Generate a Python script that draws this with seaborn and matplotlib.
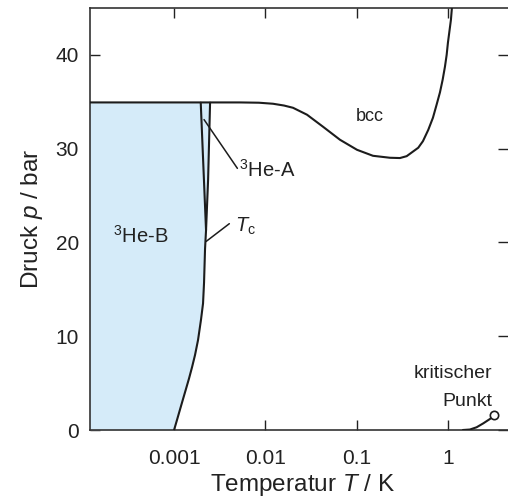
import numpy as np
import pandas as pd
import matplotlib
matplotlib.use("Agg")
import matplotlib.pyplot as plt
import seaborn as sns

# ---- data (T in K, p in bar) ----
tc_T = [1.000e-3, 1.079e-3, 1.163e-3, 1.254e-3, 1.353e-3, 1.459e-3, 1.574e-3, 1.697e-3,
        1.831e-3, 1.975e-3, 2.077e-3, 2.13e-3, 2.184e-3, 2.24e-3, 2.36e-3, 2.48e-3]
tc_p = [0.0, 1.1, 2.2, 3.3, 4.4, 5.5, 6.7, 8.0,
        9.6, 11.8, 13.5, 15.7, 19.3, 21.3, 26.7, 34.9]

ab_T = [2.24e-3, 1.96e-3]
ab_p = [21.3, 34.9]

melt_T = [1.0e-4, 5.28e-3, 8.5e-3, 0.01213, 0.016, 0.02009, 0.0286, 0.04281, 0.0657, 0.1009,
          0.151, 0.2317, 0.2981, 0.3532, 0.4732, 0.5325, 0.6086, 0.6853, 0.752, 0.8177,
          0.8753, 0.9275, 0.9683, 1.0, 1.079, 1.106, 1.13]
melt_p = [34.93, 34.93, 34.9, 34.79, 34.6, 34.36, 33.62, 32.34, 30.95, 29.88,
          29.24, 29.03, 29.0, 29.2, 30.1, 30.8, 32.0, 33.3, 34.7, 36.0,
          37.35, 38.74, 40.0, 41.3, 43.76, 45.04, 46.5]

vap_T = [1.46, 1.74, 2.06, 2.44, 2.88, 3.215]
vap_p = [0.0, 0.05, 0.29, 0.71, 1.17, 1.6]

x_ticks = [0.001, 0.01, 0.1, 1]
x_ticklabels = ["0.001", "0.01", "0.1", "1"]
y_ticks = [0, 10, 20, 30, 40]

sns.set_theme(style="ticks")
plt.rcParams["font.family"] = ["Liberation Sans", "DejaVu Sans"]
plt.rcParams["mathtext.fontset"] = "custom"
plt.rcParams["mathtext.rm"] = "Liberation Sans"
plt.rcParams["mathtext.it"] = "Liberation Sans:italic"
plt.rcParams["mathtext.bf"] = "Liberation Sans:bold"

fig = plt.figure(figsize=(5.08, 5.00), dpi=100)
ax = fig.add_axes([90 / 508, 70 / 500, 418 / 508, 422 / 500])

line_c = "#1c1c1c"
lw = 1.5

# superfluid region
ax.fill_betweenx(tc_p, 1e-5, tc_T, color="#d5ebf9", linewidth=0, zorder=1)

df_tc = pd.DataFrame({"T": tc_T, "p": tc_p})
df_ab = pd.DataFrame({"T": ab_T, "p": ab_p})
df_melt = pd.DataFrame({"T": melt_T, "p": melt_p})
df_vap = pd.DataFrame({"T": vap_T, "p": vap_p})

for d in (df_tc, df_ab, df_melt, df_vap):
    sns.lineplot(data=d, x="T", y="p", sort=False, estimator=None, color=line_c,
                 linewidth=lw, ax=ax, zorder=3)

# critical point
ax.plot(vap_T[-1:], vap_p[-1:], marker="o", ms=6, mfc="white", mec=line_c, mew=1.2,
        linestyle="none", zorder=4)

ax.set_xscale("log")
ax.set_xlim(1.2e-4, 4.55)
ax.set_ylim(0, 45)
ax.set_xticks(x_ticks)
ax.set_xticklabels(x_ticklabels)
ax.minorticks_off()
ax.set_yticks(y_ticks)

ax.tick_params(axis="both", direction="in", length=7, width=1.0, colors="#222222",
               labelsize=15, labelcolor="#222222", top=True, right=True)
ax.tick_params(axis="x", pad=13.5)
ax.tick_params(axis="y", pad=8)

for s in ["left", "bottom", "top"]:
    ax.spines[s].set_color("#333333")
    ax.spines[s].set_linewidth(1.2)
ax.spines["right"].set_visible(False)

ax.set_xlabel("Temperatur $T$ / K", fontsize=17.5, color="#222222")
ax.set_ylabel("Druck $p$ / bar", fontsize=17.5, color="#222222")
ax.xaxis.label.set_va("center")
ax.yaxis.label.set_va("center")
ax.xaxis.set_label_coords((302 - 90) / 418, (430 - 485) / 422)
ax.yaxis.set_label_coords((32 - 90) / 418, 0.5)

# annotations
txt_kw = dict(color="#222222", zorder=5)
ax.plot([2.13e-3, 4.94e-3], [33.1, 27.9], color=line_c, lw=1.1, zorder=3)
ax.text(5.15e-3, 27.0, "$^{3}$He-A", fontsize=14.5, ha="left", va="baseline", **txt_kw)

ax.plot([2.24e-3, 4.03e-3], [20.1, 22.0], color=line_c, lw=1.1, zorder=3)
ax.text(4.65e-3, 21.1, "$T_\\mathrm{c}$", fontsize=14.5, ha="left", va="baseline", **txt_kw)

ax.text(2.15e-4, 20.0, "$^{3}$He-B", fontsize=14.5, ha="left", va="baseline", **txt_kw)
ax.text(0.14, 32.9, "bcc", fontsize=13, ha="center", va="baseline", **txt_kw)
ax.text(3.03, 5.55, "kritischer", fontsize=14, ha="right", va="baseline", **txt_kw)
ax.text(3.03, 2.56, "Punkt", fontsize=14, ha="right", va="baseline", **txt_kw)

fig.savefig("out.png", dpi=100)
